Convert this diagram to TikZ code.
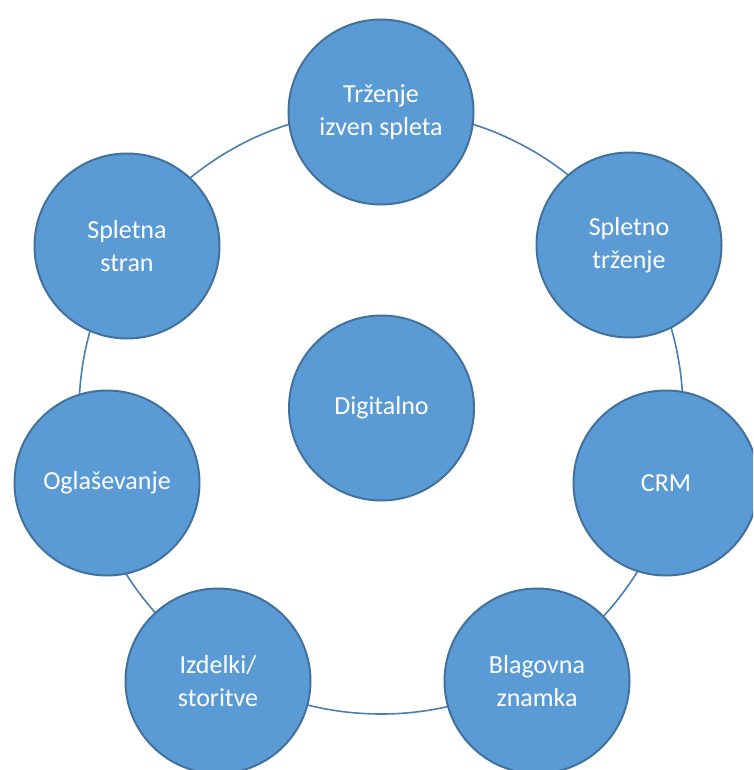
\documentclass[tikz,border=0pt]{standalone}
\usepackage{fontspec}
\setmainfont{Carlito}
\definecolor{nodefill}{HTML}{5B9BD5}
\definecolor{nodeline}{HTML}{41719C}
\definecolor{ringline}{HTML}{4A7EB0}
\begin{document}
\begin{tikzpicture}[x=1pt,y=-1pt,
  bubble/.style={circle,fill=nodefill,draw=nodeline,line width=2pt,
    minimum size=185pt,inner sep=0pt,align=center,text=white,
    font=\fontsize{26}{33}\selectfont},
  ring/.style={draw=ringline,line width=1.6pt}]
\useasboundingbox (0,0) rectangle (753,770);
\clip (0,0) rectangle (753,770);
\coordinate (c) at (381,412);
\draw[ring] (c) circle (302);
\node[bubble] (top) at (381,112) {Trženje\\izven spleta};
\node[bubble] (st) at (629,245) {Spletno\\trženje};
\node[bubble] (crm) at (666,483) {CRM};
\node[bubble] (bz) at (537,681) {Blagovna\\znamka};
\node[bubble] (is) at (218,681) {Izdelki/\\storitve};
\node[bubble] (og) at (107,483) {Oglaševanje};
\node[bubble] (ss) at (127,246) {Spletna\\stran};
\node[bubble] (dig) at (381.5,408) {Digitalno};
\end{tikzpicture}
\end{document}
